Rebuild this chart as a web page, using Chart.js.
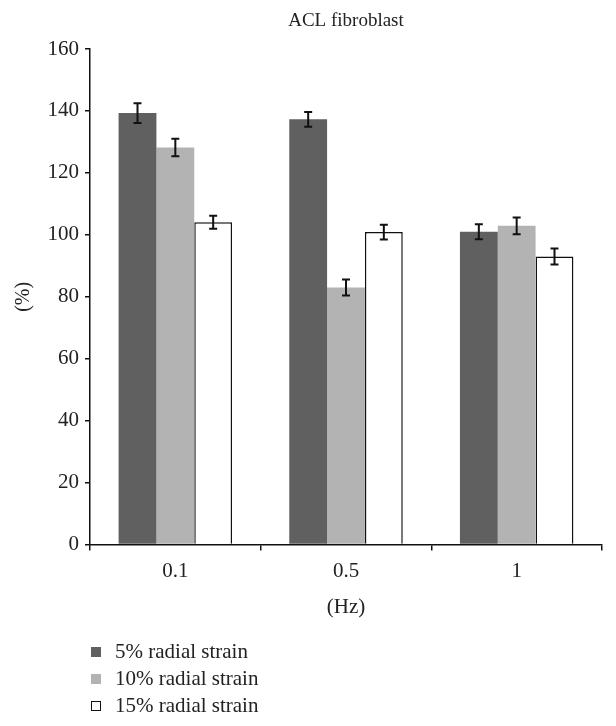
<!DOCTYPE html>
<html>
<head>
<meta charset="utf-8">
<script src="https://cdn.jsdelivr.net/npm/chart.js@4"></script>
<style>
  html, body { margin: 0; padding: 0; background: #fff; overflow: hidden; }
  #wrap { position: relative; width: 616px; height: 726px; }
  #legend { position: absolute; left: 91px; top: 638px; font-family: "Liberation Serif", serif; font-size: 21px; color: #222; }
  #legend div { height: 27px; line-height: 27px; white-space: nowrap; }
  #legend span.box { display: inline-block; width: 10px; height: 10px; margin-right: 14px; vertical-align: 1px; box-sizing: border-box; }
</style>
</head>
<body>
<div id="wrap">
  <canvas id="c" width="616" height="726"></canvas>
  <div id="legend"></div>
</div>
<script>
// data
const categories = ['0.1', '0.5', '1'];
const seriesNames = ['5% radial strain', '10% radial strain', '15% radial strain'];
const strain5 = [139.3, 137.3, 101.0];
const strain10 = [128.2, 83.0, 102.9];
const strain15 = [104.1, 100.9, 93.0];
const err5 = [3.2, 2.4, 2.4];
const err10 = [2.8, 2.6, 2.7];
const err15 = [2.1, 2.4, 2.6];
const yTicks = [0, 20, 40, 60, 80, 100, 120, 140, 160];
const chartTitle = 'ACL fibroblast';

const fills = ['#606060', '#b3b3b3', '#ffffff'];
const borders = ['#606060', '#b3b3b3', '#111111'];
const values = [strain5, strain10, strain15];
const errors = [err5, err10, err15];

const serif = '"Liberation Serif", "DejaVu Serif", serif';

// error bars drawn from the bar elements and the y scale
const errorBars = {
  id: 'errorBars',
  afterDatasetsDraw(chart) {
    const ctx = chart.ctx;
    const y = chart.scales.y;
    ctx.save();
    ctx.strokeStyle = '#111';
    ctx.lineWidth = 2;
    chart.data.datasets.forEach((ds, i) => {
      chart.getDatasetMeta(i).data.forEach((bar, j) => {
        const v = ds.data[j], e = errors[i][j];
        const top = y.getPixelForValue(v + e);
        const bot = y.getPixelForValue(v - e);
        const x = bar.x;
        ctx.beginPath();
        ctx.moveTo(x, top); ctx.lineTo(x, bot);
        ctx.moveTo(x - 4, top); ctx.lineTo(x + 4, top);
        ctx.moveTo(x - 4, bot); ctx.lineTo(x + 4, bot);
        ctx.stroke();
      });
    });
    ctx.restore();
  }
};

// title centred over the plot area, not the whole canvas
const areaTitle = {
  id: 'areaTitle',
  afterDraw(chart) {
    const ctx = chart.ctx;
    const a = chart.chartArea;
    ctx.save();
    ctx.fillStyle = '#222';
    ctx.font = '19px ' + serif;
    ctx.textAlign = 'center';
    ctx.textBaseline = 'middle';
    ctx.fillText(chartTitle, (a.left + a.right) / 2, 21);
    ctx.restore();
  }
};

new Chart(document.getElementById('c'), {
  type: 'bar',
  data: {
    labels: categories,
    datasets: seriesNames.map((name, i) => ({
      label: name,
      data: values[i],
      backgroundColor: fills[i],
      borderColor: borders[i],
      borderWidth: i === 2 ? 1.5 : 0,
      categoryPercentage: 0.665,
      barPercentage: 1.0
    }))
  },
  options: {
    responsive: false,
    animation: false,
    layout: { padding: { left: 0, right: 14, top: 49, bottom: 106 } },
    plugins: {
      legend: { display: false },
      tooltip: { enabled: false },
      title: { display: false }
    },
    scales: {
      x: {
        grid: { display: true, drawOnChartArea: false, color: '#111', lineWidth: 1.5, tickLength: 6, offset: true },
        border: { display: true, color: '#111', width: 1.5 },
        ticks: { color: '#222', font: { family: serif, size: 21 }, padding: 8 },
        title: { display: true, text: '(Hz)', color: '#222', font: { family: serif, size: 21 }, padding: { top: 3, bottom: 0 } }
      },
      y: {
        min: 0,
        max: 160,
        afterBuildTicks: s => { s.ticks = yTicks.map(v => ({ value: v })); },
        afterFit: s => { s.width = 90; },
        grid: { display: true, drawOnChartArea: false, color: '#111', lineWidth: 1.5, tickLength: 5 },
        border: { display: true, color: '#111', width: 1.5 },
        ticks: { color: '#222', font: { family: serif, size: 21 }, padding: 6 },
        title: { display: true, text: '(%)', color: '#222', font: { family: serif, size: 20 }, padding: { top: 12, bottom: 0 } }
      }
    }
  },
  plugins: [errorBars, areaTitle]
});

// legend, one entry per row
const legend = document.getElementById('legend');
seriesNames.forEach((name, i) => {
  const row = document.createElement('div');
  const box = document.createElement('span');
  box.className = 'box';
  box.style.background = fills[i];
  box.style.border = '1px solid ' + (i === 2 ? '#111' : fills[i]);
  row.appendChild(box);
  row.appendChild(document.createTextNode(name));
  legend.appendChild(row);
});
</script>
</body>
</html>
